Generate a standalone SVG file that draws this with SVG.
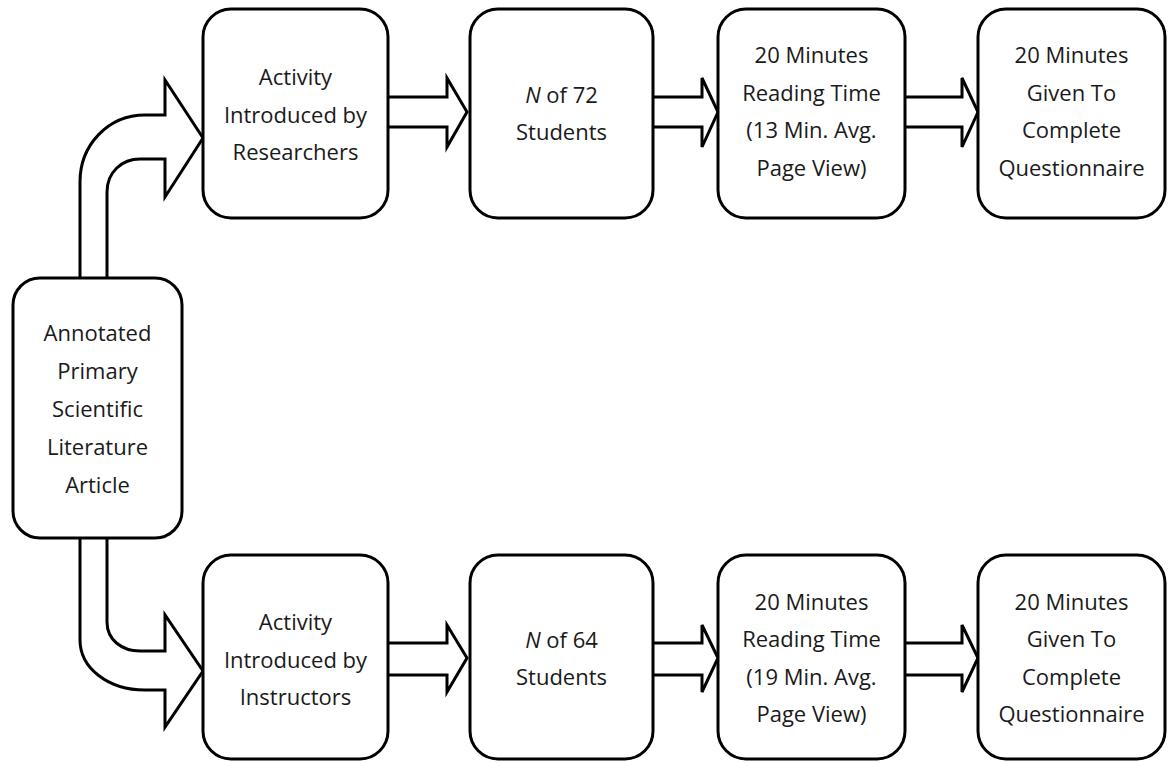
<svg xmlns="http://www.w3.org/2000/svg" width="1171" height="763" viewBox="0 0 1171 763">
<style>
.box{fill:#fff;stroke:#000;stroke-width:3}
.arr{fill:#fff;stroke:#000;stroke-width:3;stroke-linejoin:miter}
text{font-family:"Open Sans","Liberation Sans",sans-serif;font-size:22px;fill:#1a1a1a;text-anchor:middle}
</style>
<rect width="1171" height="763" fill="#fff"/>
<g id="connectors">
<path class="arr" d="M80,280 L80,182 C80,145 108,115 145,115 L165,115 L165,80 L203,138 L165,197 L165,159 L140,159 C122,159 107,172 107,192 L107,280"/>
<path class="arr" d="M80,535 L80,640 C80,668 108,690 145,690 L165,690 L165,727 L203,671 L165,615 L165,651 L140,651 C122,651 107,640 107,622 L107,535"/>
<path class="arr" d="M388,97 L447,97 L447,78 L467,112 L447,147 L447,127 L388,127"/>
<path class="arr" d="M653,97 L702,97 L702,78 L718,112 L702,147 L702,127 L653,127"/>
<path class="arr" d="M905,97 L962,97 L962,78 L978,112 L962,147 L962,127 L905,127"/>
<path class="arr" d="M388,643 L447,643 L447,625 L467,658 L447,692 L447,675 L388,675"/>
<path class="arr" d="M653,643 L702,643 L702,625 L718,658 L702,692 L702,675 L653,675"/>
<path class="arr" d="M905,643 L962,643 L962,625 L978,658 L962,692 L962,675 L905,675"/>
</g>
<g id="source">
<rect class="box" x="13" y="278" width="169" height="260" rx="27"/>
<text x="97.5" y="341">Annotated</text>
<text x="97.5" y="379">Primary</text>
<text x="97.5" y="417">Scientific</text>
<text x="97.5" y="455">Literature</text>
<text x="97.5" y="493">Article</text>
</g>
<g id="intro-researchers">
<rect class="box" x="203" y="9" width="185" height="209" rx="28"/>
<text x="295.5" y="85">Activity</text>
<text x="295.5" y="123">Introduced by</text>
<text x="295.5" y="160">Researchers</text>
</g>
<g id="n72">
<rect class="box" x="470" y="9" width="183" height="209" rx="28"/>
<text x="561.5" y="103"><tspan font-style="italic">N</tspan> of 72</text>
<text x="561.5" y="140">Students</text>
</g>
<g id="reading-top">
<rect class="box" x="718" y="9" width="187" height="209" rx="28"/>
<text x="811.5" y="63">20 Minutes</text>
<text x="811.5" y="101">Reading Time</text>
<text x="811.5" y="138">(13 Min. Avg.</text>
<text x="811.5" y="176">Page View)</text>
</g>
<g id="quest-top">
<rect class="box" x="978" y="9" width="187" height="209" rx="28"/>
<text x="1071.5" y="63">20 Minutes</text>
<text x="1071.5" y="101">Given To</text>
<text x="1071.5" y="138">Complete</text>
<text x="1071.5" y="176">Questionnaire</text>
</g>
<g id="intro-instructors">
<rect class="box" x="203" y="555" width="185" height="204" rx="28"/>
<text x="295.5" y="630">Activity</text>
<text x="295.5" y="668">Introduced by</text>
<text x="295.5" y="705">Instructors</text>
</g>
<g id="n64">
<rect class="box" x="470" y="555" width="183" height="204" rx="28"/>
<text x="561.5" y="648"><tspan font-style="italic">N</tspan> of 64</text>
<text x="561.5" y="685">Students</text>
</g>
<g id="reading-bottom">
<rect class="box" x="718" y="555" width="187" height="204" rx="28"/>
<text x="811.5" y="610">20 Minutes</text>
<text x="811.5" y="647">Reading Time</text>
<text x="811.5" y="685">(19 Min. Avg.</text>
<text x="811.5" y="722">Page View)</text>
</g>
<g id="quest-bottom">
<rect class="box" x="978" y="555" width="187" height="204" rx="28"/>
<text x="1071.5" y="610">20 Minutes</text>
<text x="1071.5" y="647">Given To</text>
<text x="1071.5" y="685">Complete</text>
<text x="1071.5" y="722">Questionnaire</text>
</g>
</svg>
